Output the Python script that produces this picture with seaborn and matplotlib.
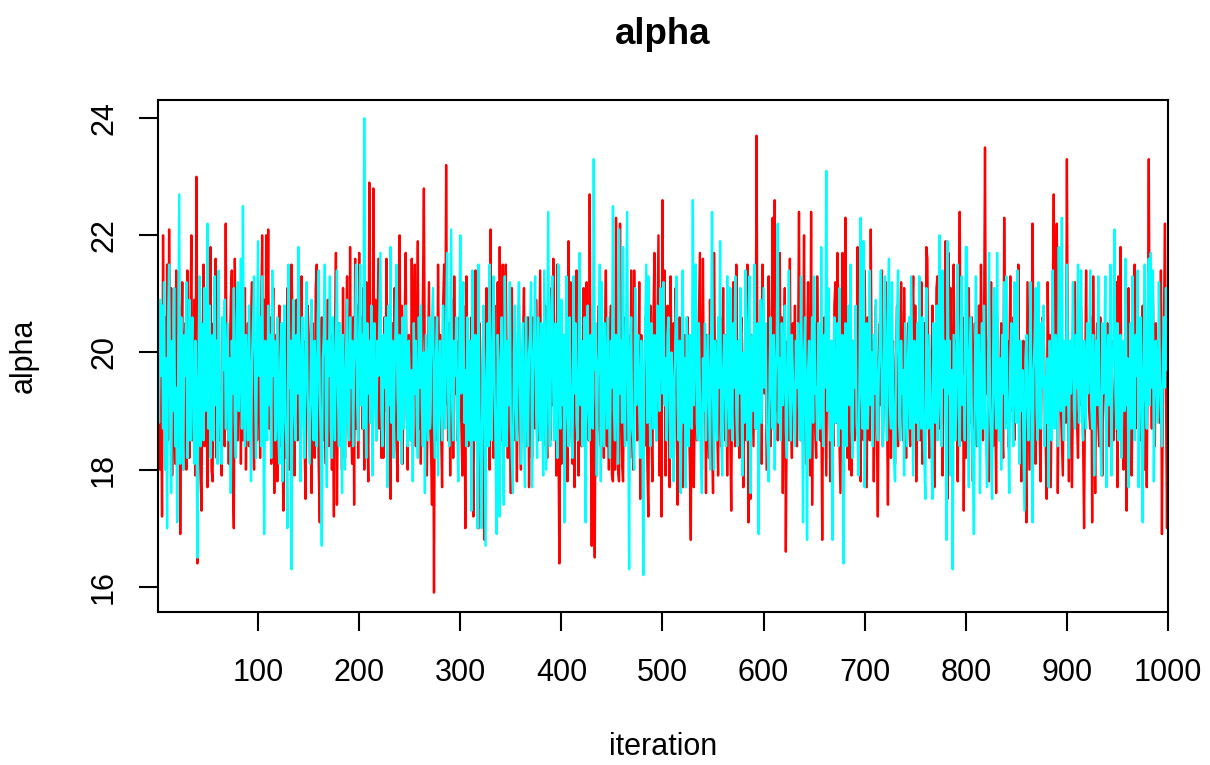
import numpy as np
import pandas as pd
import matplotlib
matplotlib.use("Agg")
import matplotlib.pyplot as plt
import seaborn as sns

# trace of alpha, two chains, 1000 iterations
red_chain = [
    20.0, 18.7, 18.0, 19.6, 17.2, 22.0, 18.8, 20.6, 18.2, 21.5,
    18.5, 22.1, 19.3, 21.1, 17.9, 20.2, 19.0, 18.1, 21.4, 19.4,
    18.4, 20.8, 16.9, 19.7, 21.2, 18.0, 20.0, 20.5, 18.0, 21.4,
    19.6, 18.2, 20.3, 22.0, 18.5, 19.3, 20.9, 17.9, 23.0, 16.4,
    19.0, 20.6, 18.1, 17.3, 19.9, 21.5, 18.4, 20.2, 19.1, 17.7,
    20.8, 18.7, 21.8, 18.0, 17.8, 20.5, 18.8, 21.6, 18.2, 20.0,
    21.1, 18.5, 19.4, 17.9, 20.6, 19.3, 18.4, 22.2, 18.7, 20.3,
    18.1, 19.9, 20.9, 21.4, 18.0, 17.0, 21.6, 19.0, 20.2, 18.5,
    19.7, 20.8, 18.1, 20.0, 18.5, 19.1, 21.1, 18.0, 19.6, 20.5,
    18.4, 19.4, 20.6, 21.2, 18.8, 18.0, 20.2, 19.3, 18.5, 19.4,
    # 101-200
    19.9, 18.2, 20.5, 22.0, 19.1, 20.9, 18.5, 22.0, 19.6, 22.1,
    18.7, 20.6, 18.1, 20.0, 21.1, 17.6, 19.3, 20.3, 17.8, 19.7,
    20.8, 18.4, 20.5, 18.8, 17.3, 19.6, 18.2, 20.2, 21.1, 19.0,
    18.0, 19.9, 21.5, 20.6, 18.7, 17.9, 19.7, 20.9, 18.5, 19.3,
    20.3, 18.1, 21.3, 19.1, 20.2, 18.4, 17.5, 20.0, 20.8, 20.3,
    18.5, 19.4, 17.6, 20.5, 18.8, 18.2, 21.1, 21.5, 19.3, 18.0,
    17.1, 19.9, 20.6, 18.5, 20.5, 18.7, 18.1, 19.7, 20.9, 18.4,
    19.6, 20.3, 18.0, 19.1, 17.2, 20.2, 21.7, 17.4, 19.4, 20.5,
    18.5, 19.6, 18.0, 21.1, 19.0, 18.2, 20.2, 21.3, 19.3, 18.4,
    21.8, 18.8, 18.1, 20.6, 17.4, 21.6, 18.7, 20.8, 18.2, 21.7,
    # 201-300
    19.3, 20.6, 18.7, 21.1, 18.0, 19.9, 21.2, 19.0, 17.8, 22.9,
    19.4, 20.5, 18.4, 22.8, 19.1, 20.9, 18.5, 20.0, 21.6, 18.7,
    20.8, 18.2, 19.6, 18.2, 20.6, 19.0, 21.6, 19.9, 18.5, 20.3,
    17.5, 19.7, 20.5, 18.7, 21.1, 19.3, 18.4, 17.8, 20.2, 22.0,
    18.8, 20.8, 18.1, 20.0, 20.6, 21.7, 19.0, 18.0, 20.3, 19.4,
    18.5, 21.6, 19.1, 20.2, 21.5, 18.4, 19.7, 21.9, 18.7, 20.5,
    18.1, 20.0, 20.9, 22.8, 19.3, 20.2, 17.9, 19.6, 21.2, 18.8,
    18.4, 17.4, 20.0, 15.9, 20.6, 19.0, 18.5, 21.5, 19.6, 20.3,
    18.7, 17.7, 20.8, 21.5, 19.1, 23.2, 19.7, 18.5, 20.5, 17.9,
    19.9, 20.9, 18.2, 21.3, 19.3, 20.2, 18.5, 19.6, 20.6, 19.4,
    # 301-400
    18.8, 17.9, 20.8, 19.6, 17.0, 21.3, 19.1, 18.4, 20.2, 19.4,
    20.6, 18.5, 17.2, 19.9, 21.4, 19.3, 18.1, 17.0, 20.5, 18.8,
    18.4, 19.7, 20.6, 16.8, 19.4, 21.1, 18.5, 20.0, 18.0, 22.1,
    19.0, 19.4, 18.2, 20.8, 18.7, 18.1, 21.2, 19.1, 21.8, 19.6,
    18.5, 21.5, 19.9, 20.5, 21.5, 19.4, 18.2, 20.2, 19.0, 17.6,
    21.1, 19.3, 18.5, 20.3, 19.6, 17.8, 19.9, 20.8, 18.7, 18.0,
    19.7, 20.2, 21.1, 19.0, 18.4, 20.0, 20.6, 17.7, 19.4, 20.3,
    18.2, 20.6, 19.3, 18.7, 20.9, 19.6, 18.5, 19.9, 21.4, 19.1,
    20.2, 18.4, 19.7, 20.8, 18.8, 18.2, 20.5, 19.4, 18.5, 21.1,
    19.1, 21.6, 19.9, 20.3, 17.9, 21.5, 18.7, 16.4, 19.3, 18.1,
    # 401-500
    19.0, 20.3, 18.2, 19.6, 20.6, 17.8, 21.9, 19.3, 21.2, 18.7,
    18.1, 19.9, 17.7, 20.5, 21.4, 19.4, 17.9, 20.2, 19.1, 18.4,
    19.6, 21.1, 18.8, 18.2, 21.2, 19.3, 18.5, 22.7, 19.0, 16.7,
    19.4, 18.1, 16.5, 20.3, 17.9, 19.7, 20.8, 18.7, 18.4, 20.5,
    19.1, 18.2, 20.0, 21.4, 18.4, 19.6, 18.0, 20.2, 20.8, 17.9,
    17.8, 19.7, 18.0, 22.3, 18.7, 18.0, 17.8, 22.2, 19.4, 18.1,
    17.8, 20.0, 20.6, 19.9, 18.5, 20.3, 19.3, 18.2, 21.4, 19.0,
    18.0, 21.4, 19.6, 20.2, 18.5, 19.1, 21.2, 17.5, 20.3, 18.7,
    19.7, 18.4, 20.6, 19.4, 18.1, 17.2, 20.0, 20.8, 18.8, 17.8,
    20.5, 21.7, 19.1, 18.5, 20.2, 22.0, 17.9, 19.6, 17.2, 22.6,
    # 501-600
    19.4, 21.4, 17.9, 20.0, 20.8, 19.0, 17.7, 21.3, 19.6, 18.5,
    20.5, 19.3, 21.1, 18.7, 17.4, 19.9, 20.6, 18.8, 18.2, 17.7,
    19.4, 20.3, 18.4, 19.7, 20.6, 19.1, 18.1, 16.8, 20.0, 20.2,
    17.7, 19.3, 20.5, 18.5, 19.6, 20.8, 21.7, 18.7, 18.0, 21.6,
    19.1, 20.0, 17.6, 20.3, 19.0, 18.2, 20.9, 19.3, 18.5, 17.6,
    21.7, 19.6, 20.2, 18.8, 17.9, 19.9, 20.6, 18.4, 19.4, 21.1,
    19.0, 18.5, 20.3, 17.9, 19.7, 20.8, 18.7, 17.3, 19.6, 21.2,
    19.1, 18.4, 21.5, 19.4, 20.2, 18.2, 20.0, 20.6, 18.8, 17.7,
    19.6, 20.5, 18.5, 21.5, 17.1, 19.9, 17.5, 20.3, 19.3, 18.4,
    20.6, 18.7, 23.7, 19.4, 18.1, 20.5, 19.1, 18.1, 21.5, 19.7,
    # 601-700
    19.3, 20.3, 18.0, 19.7, 21.3, 19.1, 18.4, 20.5, 22.3, 19.6,
    22.6, 19.0, 20.2, 18.5, 19.4, 21.7, 18.8, 20.6, 17.6, 19.9,
    21.1, 16.6, 19.3, 20.2, 18.5, 21.6, 19.1, 18.2, 20.5, 19.4,
    20.8, 18.7, 18.4, 19.7, 22.4, 19.0, 18.5, 20.6, 19.6, 22.0,
    18.8, 18.1, 19.9, 21.2, 19.1, 17.9, 22.4, 17.4, 20.0, 20.5,
    18.7, 18.2, 21.3, 19.6, 20.2, 18.5, 19.4, 16.8, 19.9, 20.6,
    19.3, 17.9, 20.3, 19.0, 19.7, 17.8, 20.2, 19.1, 18.4, 20.8,
    21.2, 18.8, 21.7, 19.4, 18.5, 17.6, 19.9, 21.7, 19.0, 20.3,
    22.3, 19.3, 18.2, 20.5, 18.0, 19.6, 17.9, 20.2, 19.4, 18.5,
    20.6, 18.8, 21.8, 19.7, 18.4, 17.8, 20.3, 19.3, 18.5, 21.4,
    # 701-800
    19.6, 17.7, 20.6, 19.0, 18.5, 22.1, 19.4, 20.2, 17.8, 19.7,
    20.8, 18.7, 17.2, 19.9, 20.5, 19.1, 21.4, 18.4, 19.6, 20.3,
    21.2, 19.0, 17.4, 20.0, 20.6, 18.2, 19.4, 20.2, 18.8, 18.1,
    19.9, 20.8, 18.4, 19.3, 20.2, 21.2, 19.0, 18.5, 21.1, 19.4,
    18.2, 20.0, 20.5, 18.8, 18.4, 19.6, 20.6, 21.3, 19.1, 20.8,
    17.8, 19.7, 20.3, 19.3, 18.5, 21.2, 18.1, 19.9, 20.5, 18.7,
    21.8, 21.6, 19.1, 18.2, 20.0, 19.0, 20.8, 19.6, 17.7, 19.4,
    21.1, 21.3, 19.3, 18.7, 20.5, 19.6, 17.9, 20.0, 20.3, 21.9,
    19.0, 17.5, 21.7, 19.9, 21.1, 18.8, 18.4, 21.5, 19.6, 20.2,
    19.1, 17.8, 20.3, 22.4, 19.4, 18.5, 20.6, 17.3, 19.9, 18.2,
    # 801-900
    19.3, 20.2, 21.1, 18.8, 20.0, 20.6, 17.8, 19.6, 20.5, 18.7,
    18.4, 19.7, 20.8, 19.1, 21.5, 19.9, 18.5, 20.3, 23.5, 19.3,
    20.2, 19.0, 17.8, 19.7, 21.2, 19.3, 18.4, 20.3, 19.4, 17.6,
    20.6, 19.6, 18.5, 19.4, 20.5, 18.7, 18.2, 22.3, 19.6, 18.8,
    20.2, 18.4, 19.6, 21.3, 19.3, 19.0, 20.6, 18.5, 19.9, 20.3,
    19.1, 21.5, 18.7, 19.7, 17.8, 19.3, 20.2, 19.4, 18.4, 17.1,
    21.2, 19.6, 18.0, 20.5, 18.8, 22.2, 19.9, 20.2, 18.1, 19.1,
    20.8, 19.4, 18.7, 17.8, 19.9, 20.6, 20.5, 19.3, 18.5, 17.5,
    21.2, 19.6, 20.3, 17.7, 19.3, 20.9, 22.7, 19.7, 19.0, 22.2,
    17.6, 19.9, 20.8, 19.1, 18.5, 17.9, 20.2, 19.4, 18.8, 23.3,
    # 901-1000
    19.4, 17.8, 19.7, 20.2, 17.7, 19.3, 20.3, 21.2, 19.0, 18.8,
    18.2, 19.9, 19.1, 20.8, 19.6, 18.5, 17.0, 19.4, 21.4, 19.3,
    20.2, 19.0, 18.7, 20.6, 17.1, 21.3, 19.1, 17.6, 20.0, 20.5,
    18.8, 18.4, 20.6, 19.6, 17.9, 20.0, 20.3, 19.3, 18.7, 20.5,
    19.1, 18.4, 19.7, 20.2, 19.4, 18.5, 18.8, 19.9, 21.2, 17.7,
    21.3, 19.4, 21.8, 19.0, 19.6, 18.0, 20.2, 19.1, 17.3, 19.7,
    21.1, 18.8, 19.9, 17.9, 19.3, 20.3, 21.5, 18.7, 19.6, 20.6,
    20.3, 19.1, 18.5, 19.9, 20.8, 19.0, 18.0, 19.6, 17.7, 20.2,
    23.3, 19.3, 20.3, 18.7, 21.2, 19.6, 18.4, 20.5, 19.7, 19.1,
    20.2, 18.8, 21.4, 16.9, 19.4, 20.6, 22.2, 19.3, 17.0, 19.9,
]

cyan_chain = [
    20.0, 18.8, 20.9, 19.6, 20.8, 18.7, 21.2, 18.0, 19.9, 17.0,
    20.5, 21.5, 19.3, 17.6, 20.2, 19.0, 21.1, 18.4, 19.4, 17.1,
    20.0, 22.7, 18.1, 20.6, 19.1, 18.0, 20.3, 19.6, 21.2, 18.2,
    19.3, 20.9, 18.5, 19.9, 20.6, 18.8, 18.1, 20.2, 19.1, 16.5,
    19.7, 21.3, 18.4, 20.5, 19.4, 18.5, 21.1, 19.0, 20.0, 22.2,
    18.7, 20.8, 18.2, 19.6, 20.3, 18.5, 21.3, 19.1, 20.2, 18.1,
    21.4, 19.4, 18.4, 18.1, 20.6, 19.7, 20.9, 18.7, 19.6, 20.5,
    18.5, 19.9, 17.6, 20.2, 19.3, 21.1, 18.8, 18.2, 20.6, 21.2,
    19.0, 20.0, 21.6, 18.7, 22.5, 19.3, 18.4, 20.3, 19.6, 18.5,
    20.8, 19.1, 17.8, 19.9, 20.5, 21.3, 19.4, 18.2, 20.3, 21.9,
    # 101-200
    19.6, 20.6, 18.4, 21.3, 19.4, 16.9, 20.2, 19.0, 18.5, 20.8,
    19.1, 20.3, 18.2, 21.4, 19.6, 20.2, 18.5, 19.3, 20.6, 18.7,
    18.1, 19.9, 20.5, 17.8, 19.7, 20.8, 18.8, 18.4, 17.0, 21.5,
    19.4, 20.2, 16.3, 19.9, 20.9, 19.0, 18.5, 20.3, 19.3, 21.8,
    19.6, 17.8, 20.0, 20.6, 18.8, 18.2, 20.5, 21.2, 19.3, 18.7,
    18.1, 19.7, 20.9, 19.1, 18.5, 20.2, 19.4, 18.4, 20.5, 21.4,
    19.3, 18.5, 16.7, 19.9, 20.3, 21.5, 19.0, 17.7, 20.2, 19.6,
    21.3, 18.7, 18.2, 20.6, 19.4, 18.5, 20.2, 21.4, 19.3, 18.4,
    20.5, 19.6, 17.6, 20.3, 19.1, 18.0, 20.0, 20.9, 18.8, 18.5,
    20.6, 19.4, 20.2, 18.4, 19.7, 20.5, 21.5, 19.1, 18.5, 20.3,
    # 201-300
    21.5, 19.1, 20.3, 18.7, 24.0, 19.4, 18.2, 20.5, 19.3, 20.2,
    18.8, 20.8, 17.9, 19.7, 20.5, 19.1, 18.5, 20.2, 19.6, 20.6,
    21.7, 19.0, 18.4, 20.3, 19.4, 20.6, 18.7, 17.7, 20.8, 19.1,
    21.8, 18.8, 20.2, 18.2, 19.6, 20.5, 21.5, 19.3, 18.5, 20.3,
    19.4, 18.1, 20.6, 18.7, 19.9, 20.8, 19.0, 18.4, 20.2, 19.6,
    18.5, 19.7, 17.8, 20.5, 19.3, 20.2, 18.8, 18.2, 20.6, 19.4,
    20.8, 19.1, 18.4, 20.0, 17.6, 20.3, 19.4, 18.5, 20.6, 18.7,
    19.9, 20.5, 21.1, 18.8, 18.2, 20.0, 20.6, 17.9, 19.6, 20.2,
    19.0, 18.5, 20.8, 19.4, 18.7, 20.5, 21.7, 19.3, 18.4, 20.3,
    22.1, 19.1, 18.5, 20.2, 19.6, 20.6, 18.8, 17.8, 19.9, 22.0,
    # 301-400
    19.3, 20.5, 21.2, 18.8, 19.7, 18.4, 20.6, 19.4, 18.5, 20.2,
    17.3, 21.4, 19.3, 18.5, 20.3, 19.6, 17.0, 21.5, 19.0, 18.1,
    17.0, 19.9, 20.8, 18.8, 16.7, 19.6, 20.5, 18.4, 21.5, 19.1,
    18.5, 20.2, 21.3, 19.3, 18.2, 16.9, 20.3, 19.4, 17.2, 19.9,
    20.6, 18.7, 17.4, 21.3, 19.6, 18.4, 20.2, 19.1, 21.2, 18.8,
    18.2, 17.6, 20.0, 20.8, 19.0, 18.5, 20.3, 21.2, 19.4, 18.1,
    19.9, 20.5, 18.7, 17.7, 20.6, 19.3, 18.4, 20.0, 20.3, 21.2,
    17.7, 19.6, 20.2, 21.3, 19.0, 18.2, 20.6, 19.4, 18.5, 20.5,
    19.1, 17.9, 21.4, 19.7, 18.0, 20.2, 22.4, 18.8, 18.4, 20.8,
    21.3, 19.3, 18.5, 20.5, 19.6, 18.2, 21.5, 19.4, 18.7, 20.9,
    # 401-500
    19.1, 20.3, 17.1, 19.6, 21.3, 19.0, 18.4, 20.6, 19.4, 18.7,
    18.2, 21.3, 19.3, 20.5, 18.8, 18.5, 19.9, 21.7, 19.1, 20.2,
    18.4, 19.6, 20.6, 17.1, 20.0, 20.8, 19.0, 18.5, 20.3, 19.4,
    18.7, 23.3, 19.7, 20.5, 17.9, 19.6, 20.0, 21.5, 17.8, 21.2,
    19.3, 18.4, 20.5, 19.6, 18.7, 20.6, 19.1, 18.2, 20.2, 19.4,
    22.5, 19.0, 18.5, 20.3, 19.6, 18.1, 22.1, 19.3, 20.2, 18.8,
    21.8, 19.1, 18.4, 20.5, 22.4, 19.4, 16.3, 20.0, 20.6, 18.7,
    18.5, 18.0, 21.1, 19.1, 19.9, 20.3, 19.0, 18.2, 20.2, 19.6,
    16.2, 19.7, 20.6, 21.5, 18.8, 21.3, 19.3, 18.4, 20.5, 19.4,
    18.7, 20.3, 19.1, 18.5, 20.8, 19.6, 19.0, 21.1, 19.9, 19.3,
    # 501-600
    21.2, 19.1, 19.9, 18.5, 20.3, 20.6, 19.0, 18.2, 20.0, 19.3,
    17.8, 19.6, 20.5, 21.3, 19.1, 18.5, 20.2, 17.6, 19.4, 21.4,
    18.8, 19.9, 17.7, 20.6, 19.3, 18.4, 20.3, 19.6, 18.7, 22.6,
    19.1, 20.2, 21.5, 18.8, 18.5, 20.5, 19.4, 18.2, 17.6, 19.9,
    19.0, 20.5, 18.5, 19.6, 20.3, 19.1, 18.0, 20.0, 22.4, 19.3,
    18.0, 20.2, 19.0, 18.5, 20.6, 19.4, 21.9, 18.7, 17.9, 19.7,
    20.3, 19.3, 18.4, 21.3, 19.6, 18.7, 21.1, 19.1, 18.5, 20.5,
    19.4, 21.3, 19.0, 18.4, 20.2, 19.3, 21.1, 19.7, 17.9, 20.0,
    18.8, 21.4, 19.6, 18.5, 20.6, 21.3, 17.6, 19.4, 20.3, 19.0,
    21.5, 18.7, 19.7, 20.5, 16.9, 19.3, 20.9, 18.8, 19.9, 21.1,
    # 601-700
    19.4, 20.5, 18.8, 18.4, 17.8, 19.7, 20.6, 19.3, 18.7, 20.3,
    18.0, 19.6, 20.2, 22.2, 18.8, 19.9, 18.5, 20.5, 19.1, 19.7,
    20.8, 18.7, 18.2, 20.0, 21.4, 19.3, 18.5, 20.3, 19.6, 19.0,
    18.4, 20.2, 19.4, 20.5, 19.1, 18.5, 21.3, 19.6, 17.1, 19.9,
    20.6, 19.0, 16.8, 19.7, 20.2, 18.2, 19.4, 20.6, 18.8, 21.3,
    19.3, 19.4, 18.5, 20.5, 19.6, 18.7, 21.8, 19.1, 18.4, 20.3,
    19.4, 23.1, 19.0, 21.1, 19.3, 18.5, 20.2, 16.8, 19.7, 20.6,
    18.8, 19.1, 20.5, 18.4, 21.1, 19.4, 18.7, 20.3, 16.4, 19.6,
    20.5, 18.4, 20.0, 20.8, 19.1, 21.5, 18.7, 18.2, 20.2, 19.4,
    20.8, 18.8, 18.5, 17.9, 19.9, 22.3, 19.3, 18.7, 21.9, 17.7,
    # 701-800
    19.6, 20.5, 18.7, 19.4, 21.4, 19.1, 20.0, 18.4, 20.3, 19.3,
    20.9, 18.8, 18.5, 19.7, 20.2, 21.4, 19.0, 18.4, 19.6, 21.3,
    19.3, 18.5, 20.5, 21.6, 19.1, 18.7, 21.2, 19.4, 18.2, 17.8,
    19.9, 20.6, 21.4, 18.8, 18.5, 20.2, 19.3, 19.7, 17.9, 20.5,
    19.4, 18.4, 20.0, 20.6, 18.7, 21.3, 19.6, 17.9, 20.2, 19.3,
    18.8, 20.5, 18.5, 21.3, 19.4, 18.7, 20.6, 19.0, 18.2, 17.5,
    21.1, 19.1, 18.7, 20.3, 19.4, 18.5, 17.5, 20.5, 19.9, 18.8,
    20.8, 18.5, 19.6, 22.0, 19.0, 18.4, 21.4, 19.4, 20.2, 18.8,
    16.8, 21.9, 19.3, 20.2, 17.9, 19.7, 16.3, 20.3, 19.4, 18.5,
    20.6, 21.5, 19.0, 18.4, 20.2, 21.3, 19.1, 19.6, 18.5, 21.8,
    # 801-900
    21.8, 19.3, 17.7, 20.0, 20.6, 18.8, 18.2, 16.9, 19.6, 21.3,
    19.1, 18.4, 20.3, 17.6, 19.4, 20.5, 18.7, 20.8, 19.0, 18.5,
    17.7, 19.7, 21.7, 19.1, 18.4, 17.5, 20.0, 21.1, 19.3, 18.7,
    21.7, 19.0, 18.5, 19.9, 18.0, 20.3, 19.3, 21.2, 18.7, 21.3,
    19.4, 18.7, 17.6, 19.9, 20.5, 19.1, 18.4, 21.2, 19.6, 18.8,
    21.4, 19.3, 18.1, 20.2, 19.0, 19.7, 18.5, 17.3, 19.9, 20.3,
    19.1, 18.5, 19.6, 21.2, 18.8, 17.1, 19.7, 20.2, 21.1, 19.0,
    18.5, 21.2, 19.3, 18.7, 20.5, 19.4, 20.8, 18.4, 19.6, 18.8,
    19.9, 17.7, 20.2, 19.1, 18.5, 21.4, 19.4, 18.7, 20.3, 19.3,
    18.4, 21.8, 19.6, 19.0, 22.3, 19.3, 18.5, 20.2, 19.1, 21.5,
    # 901-1000
    19.6, 18.2, 20.2, 19.3, 19.9, 21.2, 19.0, 18.7, 20.3, 19.4,
    21.5, 18.8, 19.6, 21.4, 19.1, 18.5, 20.2, 19.4, 18.7, 20.5,
    19.3, 19.9, 21.4, 19.1, 18.7, 20.3, 17.9, 19.6, 20.2, 19.1,
    21.3, 19.4, 18.7, 17.9, 20.5, 19.3, 19.9, 21.3, 17.7, 19.6,
    20.3, 19.1, 21.5, 17.9, 19.7, 20.2, 22.1, 19.3, 18.7, 20.5,
    18.5, 19.6, 20.3, 18.2, 19.4, 20.2, 19.0, 21.6, 19.1, 19.9,
    17.7, 19.4, 20.5, 18.7, 21.3, 19.3, 18.5, 20.3, 19.6, 21.4,
    17.7, 19.7, 20.6, 19.0, 17.1, 19.9, 21.5, 19.3, 18.7, 20.5,
    21.6, 19.1, 21.7, 19.4, 21.4, 17.8, 19.9, 20.2, 19.3, 18.8,
    21.2, 19.6, 19.0, 18.4, 20.0, 20.6, 19.4, 21.1, 19.7, 20.4,
]

if len(red_chain) != 1000 or len(cyan_chain) != 1000:
    raise ValueError(f"chain lengths {len(red_chain)} {len(cyan_chain)}")

iteration = np.arange(1, 1001)
chains = ["1", "2"]
chain_colors = {"1": "#FF0000", "2": "#00FFFF"}

df = pd.concat([
    pd.DataFrame({"iteration": iteration, "alpha": red_chain, "chain": "1"}),
    pd.DataFrame({"iteration": iteration, "alpha": cyan_chain, "chain": "2"}),
])

sns.set_style("white")
plt.rcParams["font.family"] = ["Liberation Sans", "DejaVu Sans"]
plt.rcParams["text.color"] = "black"
plt.rcParams["axes.labelcolor"] = "black"

fig = plt.figure(figsize=(12.1, 7.65), dpi=100)
ax = fig.add_axes([158 / 1210, 153 / 765, 1010 / 1210, 512 / 765])

sns.lineplot(data=df, x="iteration", y="alpha", hue="chain", hue_order=chains,
             palette=chain_colors, estimator=None, sort=False, linewidth=1.7,
             legend=False, ax=ax)

ax.set_xlim(1, 1000)
ax.set_ylim(15.57, 24.31)
ax.set_xticks(range(100, 1001, 100))
ax.set_yticks([16, 18, 20, 22, 24])

for s in ax.spines.values():
    s.set_visible(True)
    s.set_color("black")
    s.set_linewidth(1.5)

ax.tick_params(axis="both", direction="out", length=14, width=1.5,
               color="black", labelsize=22, labelcolor="black")
ax.tick_params(axis="x", pad=19, bottom=True)
ax.tick_params(axis="y", pad=14, left=True, labelrotation=90)
for lab in ax.get_yticklabels():
    lab.set_va("center")

ax.set_title("alpha", fontsize=26.4, fontweight="bold", color="black", pad=40)
ax.set_xlabel("iteration", fontsize=22)
ax.set_ylabel("alpha", fontsize=22)
ax.xaxis.set_label_coords(0.5, -0.235)
ax.yaxis.set_label_coords(-0.118, 0.5)

fig.savefig("out.png", dpi=100)
